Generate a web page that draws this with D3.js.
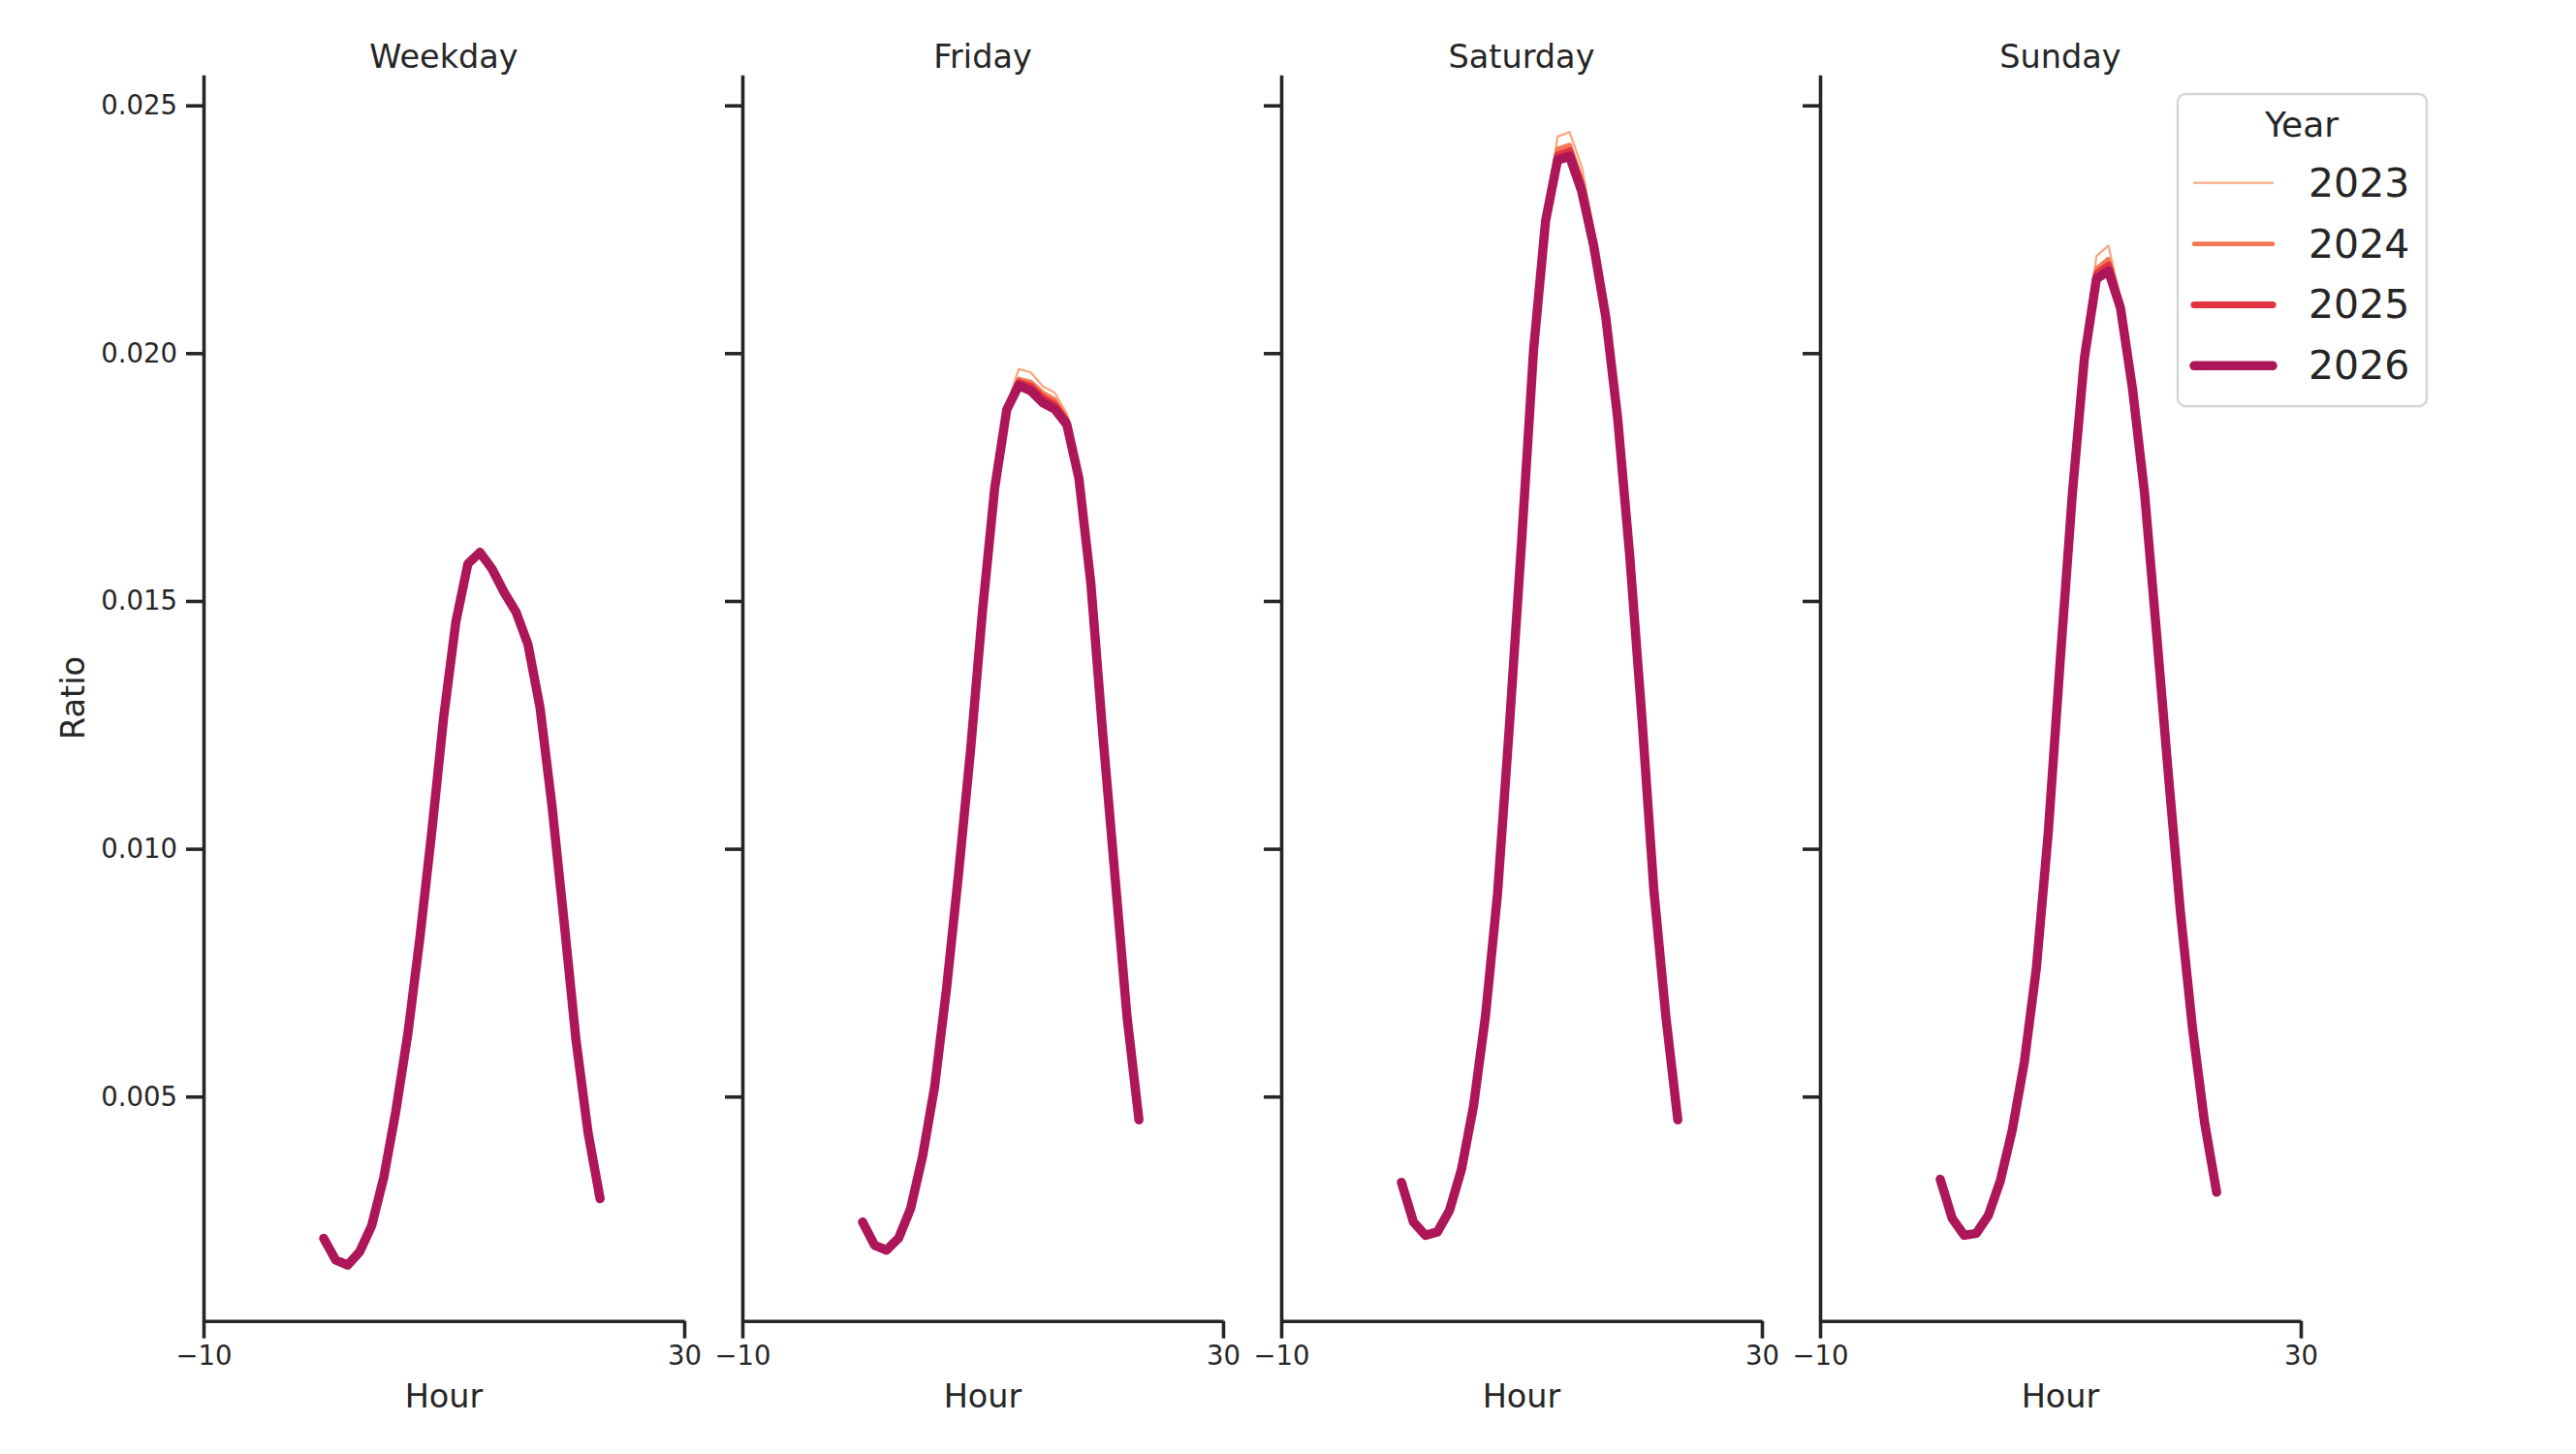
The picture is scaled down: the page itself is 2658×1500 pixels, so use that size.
<!DOCTYPE html>
<html>
<head>
<meta charset="utf-8">
<script src="https://cdn.jsdelivr.net/npm/d3@7"></script>
<style>
  html, body { margin: 0; padding: 0; background: #ffffff; }
  svg { display: block; }
  text { font-family: "DejaVu Sans", sans-serif; fill: #262626; }
</style>
</head>
<body>
<svg id="chart" width="2658" height="1500"></svg>
<script>
// ---------------- data ----------------
const days = ["Weekday", "Friday", "Saturday", "Sunday"];
const years = ["2023", "2024", "2025", "2026"];
const hours = [0,1,2,3,4,5,6,7,8,9,10,11,12,13,14,15,16,17,18,19,20,21,22,23];
const xTicks = [-10, 30];
const yTicks = [0.005, 0.010, 0.015, 0.020, 0.025];

const weekday2023 = [0.00214,0.00170,0.00160,0.00187,0.00240,0.00337,0.00470,0.00626,0.00819,0.01036,0.01270,0.01460,0.01580,0.01603,0.01568,0.01520,0.01480,0.01414,0.01286,0.01086,0.00853,0.00613,0.00427,0.00294];
const weekday2024 = [0.00214,0.00170,0.00160,0.00187,0.00240,0.00337,0.00470,0.00626,0.00819,0.01036,0.01269,0.01459,0.01578,0.01600,0.01566,0.01519,0.01479,0.01413,0.01285,0.01086,0.00853,0.00613,0.00427,0.00294];
const weekday2025 = [0.00214,0.00170,0.00160,0.00187,0.00240,0.00337,0.00470,0.00626,0.00819,0.01036,0.01269,0.01458,0.01576,0.01599,0.01565,0.01518,0.01478,0.01412,0.01285,0.01086,0.00853,0.00613,0.00427,0.00294];
const weekday2026 = [0.00214,0.00170,0.00160,0.00187,0.00240,0.00337,0.00470,0.00626,0.00819,0.01036,0.01269,0.01458,0.01575,0.01598,0.01565,0.01518,0.01478,0.01412,0.01285,0.01086,0.00853,0.00613,0.00427,0.00294];

const friday2023 = [0.00247,0.00200,0.00190,0.00214,0.00274,0.00380,0.00520,0.00720,0.00952,0.01202,0.01485,0.01730,0.01895,0.01968,0.01961,0.01933,0.01920,0.01878,0.01760,0.01540,0.01231,0.00946,0.00663,0.00453];
const friday2024 = [0.00247,0.00200,0.00190,0.00214,0.00274,0.00380,0.00520,0.00720,0.00952,0.01202,0.01485,0.01729,0.01890,0.01948,0.01942,0.01920,0.01906,0.01868,0.01754,0.01537,0.01230,0.00946,0.00663,0.00453];
const friday2025 = [0.00247,0.00200,0.00190,0.00214,0.00274,0.00380,0.00520,0.00720,0.00952,0.01202,0.01485,0.01728,0.01888,0.01941,0.01933,0.01910,0.01896,0.01862,0.01751,0.01536,0.01229,0.00946,0.00663,0.00453];
const friday2026 = [0.00247,0.00200,0.00190,0.00214,0.00274,0.00380,0.00520,0.00720,0.00952,0.01202,0.01485,0.01728,0.01886,0.01935,0.01924,0.01900,0.01887,0.01856,0.01748,0.01535,0.01229,0.00946,0.00663,0.00453];

const saturday2023 = [0.00327,0.00247,0.00220,0.00227,0.00270,0.00353,0.00480,0.00663,0.00909,0.01252,0.01620,0.02015,0.02280,0.02437,0.02446,0.02377,0.02250,0.02090,0.01876,0.01594,0.01270,0.00919,0.00663,0.00453];
const saturday2024 = [0.00327,0.00247,0.00220,0.00227,0.00270,0.00353,0.00480,0.00663,0.00909,0.01252,0.01619,0.02010,0.02272,0.02412,0.02420,0.02350,0.02232,0.02080,0.01872,0.01592,0.01269,0.00919,0.00663,0.00453];
const saturday2025 = [0.00327,0.00247,0.00220,0.00227,0.00270,0.00353,0.00480,0.00663,0.00909,0.01252,0.01618,0.02008,0.02270,0.02400,0.02408,0.02338,0.02225,0.02077,0.01870,0.01591,0.01269,0.00919,0.00663,0.00453];
const saturday2026 = [0.00327,0.00247,0.00220,0.00227,0.00270,0.00353,0.00480,0.00663,0.00909,0.01252,0.01618,0.02007,0.02267,0.02390,0.02397,0.02327,0.02217,0.02074,0.01868,0.01591,0.01269,0.00919,0.00663,0.00453];

const sunday2023 = [0.00333,0.00254,0.00220,0.00224,0.00260,0.00330,0.00433,0.00570,0.00759,0.01036,0.01387,0.01722,0.02000,0.02196,0.02217,0.02110,0.01940,0.01724,0.01438,0.01146,0.00869,0.00636,0.00447,0.00307];
const sunday2024 = [0.00333,0.00254,0.00220,0.00224,0.00260,0.00330,0.00433,0.00570,0.00759,0.01036,0.01386,0.01720,0.01996,0.02170,0.02190,0.02102,0.01934,0.01720,0.01436,0.01145,0.00869,0.00636,0.00447,0.00307];
const sunday2025 = [0.00333,0.00254,0.00220,0.00224,0.00260,0.00330,0.00433,0.00570,0.00759,0.01036,0.01385,0.01719,0.01993,0.02160,0.02178,0.02096,0.01930,0.01718,0.01435,0.01145,0.00869,0.00636,0.00447,0.00307];
const sunday2026 = [0.00333,0.00254,0.00220,0.00224,0.00260,0.00330,0.00433,0.00570,0.00759,0.01036,0.01385,0.01718,0.01991,0.02150,0.02166,0.02091,0.01928,0.01718,0.01435,0.01145,0.00869,0.00636,0.00447,0.00307];

const seriesByDay = {
  "Weekday":  [weekday2023, weekday2024, weekday2025, weekday2026],
  "Friday":   [friday2023, friday2024, friday2025, friday2026],
  "Saturday": [saturday2023, saturday2024, saturday2025, saturday2026],
  "Sunday":   [sunday2023, sunday2024, sunday2025, sunday2026]
};

// ---------------- styles ----------------
const yearColors = ["#f6aa82", "#f47854", "#e13342", "#ad1759"];
const yearWidths = [2.3, 4.7, 7.1, 9.5];
const ink = "#262626";
const spineW = 3.6;

// ---------------- layout ----------------
const svg = d3.select("#chart");
svg.append("rect").attr("width", 2658).attr("height", 1500).attr("fill", "#ffffff");

const panelLeft0 = 210, panelStep = 556, panelW = 496;
const plotTop = 77.3, plotBottom = 1362.7;

const y = d3.scaleLinear().domain([0.000473, 0.025614]).range([plotBottom, plotTop]);
const minusFmt = d => (d < 0 ? "\u2212" + Math.abs(d) : String(d));

days.forEach((day, i) => {
  const left = panelLeft0 + i * panelStep;
  const x = d3.scaleLinear().domain([-10, 30]).range([left, left + panelW]);
  const g = svg.append("g");

  // lines
  const line = d3.line().x(d => x(d[0])).y(d => y(d[1]));
  seriesByDay[day].forEach((vals, k) => {
    const pts = hours.map((h, j) => [h, vals[j]]);
    g.append("path")
      .attr("d", line(pts))
      .attr("fill", "none")
      .attr("stroke", yearColors[k])
      .attr("stroke-width", yearWidths[k])
      .attr("stroke-linejoin", "round")
      .attr("stroke-linecap", "round");
  });

  // y axis
  const yAxis = d3.axisLeft(y).tickValues(yTicks).tickSize(18).tickPadding(9).tickSizeOuter(0)
    .tickFormat(i === 0 ? d3.format(".3f") : () => "");
  const ya = g.append("g").attr("transform", `translate(${left},0)`).call(yAxis);
  ya.select(".domain").attr("stroke", ink).attr("stroke-width", spineW);
  ya.selectAll(".tick line").attr("stroke", ink).attr("stroke-width", spineW);
  ya.selectAll(".tick text").attr("font-size", 27.5).attr("fill", ink)
    .attr("font-family", "DejaVu Sans");

  // x axis
  const xAxis = d3.axisBottom(x).tickValues(xTicks).tickSize(18).tickPadding(8).tickSizeOuter(0)
    .tickFormat(minusFmt);
  const xa = g.append("g").attr("transform", `translate(0,${plotBottom})`).call(xAxis);
  xa.select(".domain").attr("stroke", ink).attr("stroke-width", spineW);
  xa.selectAll(".tick line").attr("stroke", ink).attr("stroke-width", spineW);
  xa.selectAll(".tick text").attr("font-size", 27.5).attr("fill", ink)
    .attr("font-family", "DejaVu Sans");

  // title
  g.append("text").attr("x", left + panelW / 2).attr("y", 70)
    .attr("text-anchor", "middle").attr("font-size", 33.5).text(day);

  // x label
  g.append("text").attr("x", left + panelW / 2).attr("y", 1452)
    .attr("text-anchor", "middle").attr("font-size", 33.5).text("Hour");
});

// y label
svg.append("text")
  .attr("transform", `translate(75,${(plotTop + plotBottom) / 2}) rotate(-90)`)
  .attr("text-anchor", "middle").attr("dominant-baseline", "central")
  .attr("font-size", 33.5).text("Ratio");

// ---------------- legend ----------------
const lg = svg.append("g");
lg.append("rect").attr("x", 2247).attr("y", 97).attr("width", 257).attr("height", 322)
  .attr("rx", 8).attr("ry", 8)
  .attr("fill", "#ffffff").attr("fill-opacity", 0.8)
  .attr("stroke", "#d6d6d6").attr("stroke-width", 2.5);
lg.append("text").attr("x", 2375).attr("y", 141).attr("text-anchor", "middle")
  .attr("font-size", 36).text("Year");
const legendY = d3.scalePoint().domain(years).range([188.7, 377.3]);
years.forEach((yr, k) => {
  const cy = legendY(yr);
  lg.append("line").attr("x1", 2264).attr("x2", 2345).attr("y1", cy).attr("y2", cy)
    .attr("stroke", yearColors[k]).attr("stroke-width", yearWidths[k])
    .attr("stroke-linecap", "round");
  lg.append("text").attr("x", 2382).attr("y", cy).attr("dominant-baseline", "central")
    .attr("font-size", 41).text(yr);
});
</script>
</body>
</html>
